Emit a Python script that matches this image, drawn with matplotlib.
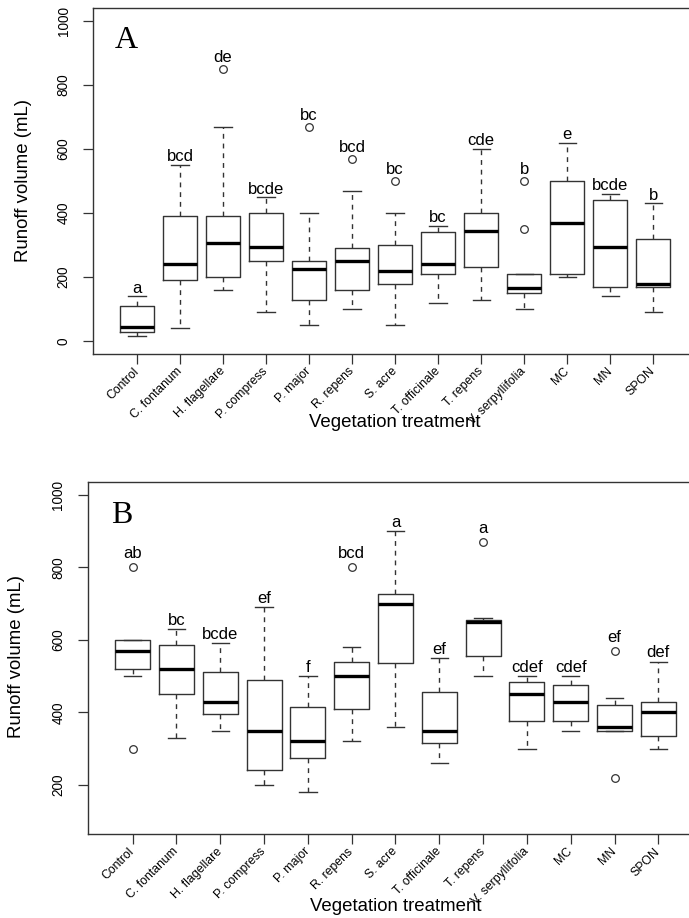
import matplotlib
matplotlib.use('Agg')
import matplotlib.pyplot as plt

names = ['Control', 'C. fontanum', 'H. flagellare', 'P. compress', 'P. major', 'R. repens',
         'S. acre', 'T. officinale', 'T. repens', 'V. serpyllifolia', 'MC', 'MN', 'SPON']

# Panel A: box statistics
a_whislo = [17, 40, 160, 90, 50, 100, 50, 120, 130, 100, 200, 140, 90]
a_q1 = [30, 190, 200, 250, 130, 160, 180, 210, 230, 150, 210, 170, 170]
a_med = [45, 240, 305, 295, 225, 250, 220, 240, 345, 165, 370, 295, 180]
a_q3 = [110, 390, 390, 400, 250, 290, 300, 340, 400, 210, 500, 440, 320]
a_whishi = [140, 550, 670, 450, 400, 470, 400, 360, 600, 210, 620, 460, 430]
a_fliers = [[], [], [850], [], [670], [570], [500], [], [], [500, 350], [], [], []]
a_letters = ['a', 'bcd', 'de', 'bcde', 'bc', 'bcd', 'bc', 'bc', 'cde', 'b', 'e', 'bcde', 'b']

# Panel B
b_whislo = [500, 330, 350, 200, 180, 320, 360, 260, 500, 300, 350, 350, 300]
b_q1 = [520, 450, 395, 240, 275, 410, 535, 315, 555, 375, 375, 350, 335]
b_med = [570, 520, 430, 350, 320, 500, 700, 350, 650, 450, 430, 360, 400]
b_q3 = [600, 585, 510, 490, 415, 540, 725, 455, 655, 485, 475, 420, 430]
b_whishi = [600, 630, 590, 690, 500, 580, 900, 550, 660, 500, 500, 440, 540]
b_fliers = [[800, 300], [], [], [], [], [800], [], [], [870], [], [], [570, 220], []]
b_letters = ['ab', 'bc', 'bcde', 'ef', 'f', 'bcd', 'a', 'ef', 'a', 'cdef', 'cdef', 'ef', 'def']

plt.rcParams['font.family'] = ['Liberation Sans', 'DejaVu Sans']
edge = '#333333'


def panel(ax, whislo, q1, med, q3, whishi, fliers, letters, tag, ylim, yticks, cap_off, fl_off):
    stats = []
    for i in range(len(names)):
        stats.append(dict(whislo=whislo[i], q1=q1[i], med=med[i], q3=q3[i],
                          whishi=whishi[i], fliers=fliers[i], label=names[i]))
    pos = list(range(1, len(names) + 1))
    ax.bxp(stats, positions=pos, widths=0.8, showfliers=True, patch_artist=False,
           boxprops=dict(color=edge, linewidth=1.0),
           medianprops=dict(color='black', linewidth=2.4, solid_capstyle='butt'),
           whiskerprops=dict(color=edge, linewidth=1.0, linestyle=(0, (3.5, 3.5))),
           capprops=dict(color=edge, linewidth=1.0),
           capwidths=0.4,
           flierprops=dict(marker='o', markerfacecolor='none', markeredgecolor=edge,
                           markersize=5.5, markeredgewidth=0.9))
    for i, lab in enumerate(letters):
        top = whishi[i]
        off = cap_off
        if fliers[i] and max(fliers[i]) > top:
            top = max(fliers[i])
            off = fl_off
        ax.annotate(lab, (pos[i], top), xytext=(0, off), textcoords='offset points',
                    ha='center', va='baseline', fontsize=12)
    ax.set_xlim(-0.02, len(names) + 1.02)
    ax.set_ylim(*ylim)
    ax.set_yticks(yticks)
    ax.set_xticks(pos)
    ax.set_xticklabels(names, rotation=45, ha='right', va='center',
                       rotation_mode='anchor', fontsize=8.8)
    ax.tick_params(axis='x', length=7.2, width=0.9, color=edge, pad=4)
    ax.tick_params(axis='y', length=7.2, width=0.9, color=edge, pad=9, labelsize=9.8)
    for t in ax.get_yticklabels():
        t.set_rotation(90)
        t.set_va('center')
    for s in ax.spines.values():
        s.set_color(edge)
        s.set_linewidth(1.0)
    ax.set_ylabel('Runoff volume (mL)', fontsize=13.4, va='center')
    ax.set_xlabel('Vegetation treatment', fontsize=13.4)
    ax.text(0.055, 0.905, tag, transform=ax.transAxes, fontsize=23,
            family='Liberation Serif', ha='center', va='center')


fig = plt.figure(figsize=(6.89, 9.18), dpi=100)
axA = fig.add_axes([0.1351, 0.6144, 0.8766, 0.3769])
axB = fig.add_axes([0.1277, 0.0912, 0.8926, 0.3841])

panel(axA, a_whislo, a_q1, a_med, a_q3, a_whishi, a_fliers, a_letters, 'A',
      (-40, 1040), [0, 200, 400, 600, 800, 1000], 2.5, 5)
panel(axB, b_whislo, b_q1, b_med, b_q3, b_whishi, b_fliers, b_letters, 'B',
      (64, 1036), [200, 400, 600, 800, 1000], 3, 6.5)

axA.yaxis.set_label_coords(-0.116, 0.5)
axA.xaxis.set_label_coords(0.5, -0.199)
axA.xaxis.label.set_va('center')
axB.yaxis.set_label_coords(-0.117, 0.504)
axB.xaxis.set_label_coords(0.5, -0.206)
axB.xaxis.label.set_va('center')

fig.savefig('out.png', dpi=100)
